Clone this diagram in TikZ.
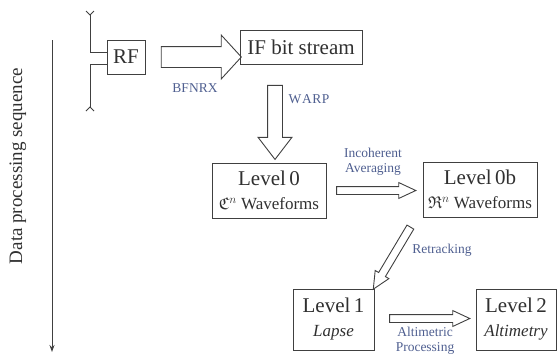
\documentclass[tikz,border=0pt]{standalone}
\usepackage{amssymb}
\usepackage{fontspec}
\setmainfont{Liberation Serif}
\usetikzlibrary{shapes.arrows,calc,arrows.meta}
\definecolor{lbl}{HTML}{4F5F90}
\definecolor{ink}{HTML}{303030}
\definecolor{edge}{HTML}{404040}
\tikzset{
  box/.style={draw=edge, line width=0.9pt, text=ink, align=center, inner sep=0pt},
  big/.style={font=\fontsize{21}{25}\selectfont},
  lab/.style={text=lbl, font=\fontsize{13.5}{14.5}\selectfont, align=center, inner sep=0pt},
  fatarrow/.style={single arrow, draw=edge, line width=0.9pt, minimum width=0pt,
    inner xsep=0pt, single arrow head indent=0pt, anchor=center},
  wire/.style={draw=edge, line width=0.9pt}
}
\newcommand\hollowarrow[5]{%
  \path let \p1=($(#2)-(#1)$), \n1={atan2(\y1,\x1)}, \n2={veclen(\x1,\y1)} in
    node[fatarrow, inner ysep=#3, single arrow head extend=#4,
         single arrow tip angle=#5, minimum height=\n2, rotate=\n1]
    at ($(#1)!0.5!(#2)$) {};}
\newcommand\sub[1]{{\fontsize{17}{20}\selectfont #1}}
\begin{document}
\begin{tikzpicture}[x=1pt,y=-1pt]
\useasboundingbox (0,0) rectangle (557,357);

% side arrow
\coordinate (seqtop) at (52,40);
\coordinate (seqbot) at (52,352);
\draw[edge, line width=0.9pt, -{Stealth[length=7pt,width=5pt]}] (seqtop) -- (seqbot);
\node[rotate=90, text=ink, font=\fontsize{19}{22}\selectfont] (seq) at (18,166) {Data processing sequence};

% boxes
\node[box, big, minimum width=38pt, minimum height=34pt] (rf) at (126,57) {RF};
\node[box, big, minimum width=122pt, minimum height=34pt] (if) at (301,47) {IF bit stream};
\node[box, big, minimum width=114pt, minimum height=55pt] (l0) at (269,190.5)
  {Level\,0\\[-1pt]\sub{$\mathfrak{C}^n$ Waveforms}};
\node[box, big, minimum width=114pt, minimum height=55pt] (l0b) at (480,189.5)
  {Level\,0b\\[-1pt]\sub{$\mathfrak{R}^n$ Waveforms}};
\node[box, big, minimum width=81pt, minimum height=61pt] (l1) at (333.5,319.5)
  {Level\,1\\[-1pt]\sub{\itshape Lapse}};
\node[box, big, minimum width=80pt, minimum height=61pt] (l2) at (516,319.5)
  {Level\,2\\[-1pt]\sub{\itshape Altimetry}};

% antennas
\coordinate (a1top) at (90,15);
\coordinate (a1bend) at (90,52);
\coordinate (a2bend) at (90,64);
\coordinate (a2bot) at (90,107);
\draw[wire] (a1top) -- (a1bend) -- (a1bend -| rf.west);
\draw[wire] (a2bot) -- (a2bend) -- (a2bend -| rf.west);
\draw[wire] ($(a1top)+(-4,-4)$) -- (a1top) -- ($(a1top)+(4,-4)$);
\draw[wire] ($(a2bot)+(-4,4)$) -- (a2bot) -- ($(a2bot)+(4,4)$);

% hollow arrows
\coordinate (b1) at ($(rf.east)+(11,0)$);
\coordinate (b2) at ($(if.west |- rf.east)+(-3,0)$);
\hollowarrow{b1}{b2}{10pt}{11.5pt}{95}
\coordinate (w1) at ($(if.south)+(-26,16)$);
\coordinate (w2) at ($(l0.north)+(6,-8)$);
\hollowarrow{w1}{w2}{7pt}{9.5pt}{75}
\coordinate (i1) at ($(l0.east)+(6,0)$);
\coordinate (i2) at ($(l0b.west |- l0.east)+(-11,0)$);
\hollowarrow{i1}{i2}{3.5pt}{4pt}{50}
\coordinate (r1) at ($(l0b.south west)+(-10,6)$);
\coordinate (r2) at ($(l1.north east)+(1,-3)$);
\hollowarrow{r1}{r2}{3.5pt}{4pt}{50}
\coordinate (p1) at ($(l1.east)+(11,-1)$);
\coordinate (p2) at ($(l2.west)+(-10,-1)$);
\hollowarrow{p1}{p2}{3.5pt}{4pt}{50}

% labels
\node[lab] (lbf) at (195,88) {BFNRX};
\node[lab] (lwarp) at (309,99) {W\kern1pt A\kern0.5pt R\kern0.5pt P};
\node[lab] (linc) at (373,162) {Incoherent\\Averaging};
\node[lab] (lret) at (442,250) {Retracking};
\node[lab] (lalt) at (425,341) {Altimetric\\Processing};
\end{tikzpicture}
\end{document}
